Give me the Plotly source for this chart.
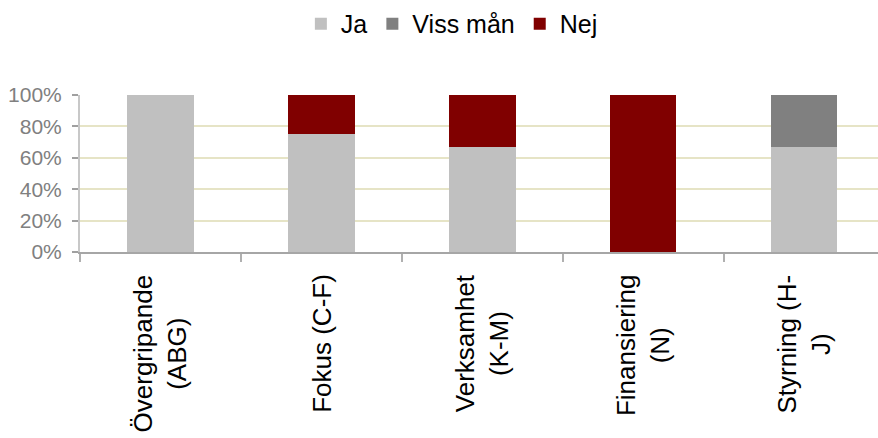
import plotly.graph_objects as go

# Categories (drawn as rotated, centred two-line labels under the axis)
categories = [
    "Övergripande<br>(ABG)",
    "Fokus (C-F)",
    "Verksamhet<br>(K-M)",
    "Finansiering<br>(N)",
    "Styrning (H-<br>J)",
]

# Share of answers per category, in percent
ja = [100, 75, 66.7, 0, 66.7]
viss_man = [0, 0, 0, 0, 33.3]
nej = [0, 25, 33.3, 100, 0]

y_ticks = [0, 20, 40, 60, 80, 100]
y_tick_text = [f"{v}%" for v in y_ticks]

series = [
    ("Ja", ja, "#c0c0c0"),
    ("Viss mån", viss_man, "#808080"),
    ("Nej", nej, "#800000"),
]

fig = go.Figure()
for name, values, color in series:
    fig.add_trace(go.Bar(
        name=name,
        x=categories,
        y=values,
        marker=dict(color=color, line=dict(width=0)),
        width=0.415,
    ))

# Category labels: rotated text, centred line by line, hanging below the axis
for cat in categories:
    fig.add_annotation(
        x=cat,
        xref="x",
        y=0,
        yref="paper",
        yanchor="top",
        xanchor="center",
        yshift=-20,
        text=cat,
        textangle=-90,
        align="center",
        showarrow=False,
        font=dict(size=26, color="black"),
    )

fig.update_layout(
    width=878,
    height=438,
    barmode="stack",
    paper_bgcolor="white",
    plot_bgcolor="white",
    margin=dict(l=80, r=0, t=95, b=186),
    font=dict(family="Liberation Sans, Arial, sans-serif", color="black"),
    legend=dict(
        orientation="h",
        x=0.466,
        xanchor="center",
        yref="container",
        y=0.998,
        yanchor="top",
        font=dict(size=25, color="black"),
        traceorder="normal",
        itemsizing="constant",
    ),
    showlegend=True,
)

fig.update_xaxes(
    type="category",
    range=[-0.5, 4.46],
    showticklabels=False,
    showline=True,
    linecolor="#a6a6a6",
    linewidth=2,
    ticks="outside",
    tickson="boundaries",
    ticklen=8,
    tickcolor="#b0b0b0",
    tickwidth=1.5,
    showgrid=False,
)

fig.update_yaxes(
    range=[0, 100],
    tickvals=y_ticks,
    ticktext=y_tick_text,
    tickfont=dict(size=21, color="#808080"),
    showline=True,
    linecolor="#c8c8c8",
    linewidth=2,
    ticks="outside",
    ticklen=6,
    tickcolor="#a0a0a0",
    tickwidth=1.5,
    showgrid=True,
    gridcolor="#e6e4c6",
    gridwidth=1.5,
    zeroline=False,
    ticklabelstandoff=6,
)

fig.write_html("out.html")
